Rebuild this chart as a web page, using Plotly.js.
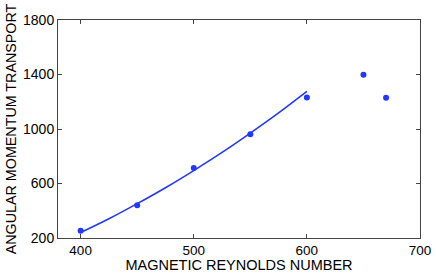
<!DOCTYPE html>
<html>
<head>
<meta charset="utf-8">
<script src="https://cdn.plot.ly/plotly-3.0.1.min.js"></script>
<style>html,body{margin:0;padding:0;background:#fff;}#chart{width:436px;height:273px;}</style>
</head>
<body>
<div id="chart"></div>
<script>
// Measured data points
const reynolds = [400, 450, 500, 550, 600, 650, 670];
const transport = [254, 440, 714, 962, 1232, 1398, 1230];
// Fitted curve
const fitReynolds = [400, 425, 450, 475, 500, 525, 550, 575, 600];
const fitTransport = [240, 341, 452, 569, 695, 828, 970, 1118, 1276];
const xTicks = [400, 500, 600, 700];
const yTicks = [200, 600, 1000, 1400, 1800];

const blue = '#2238ff';
const data = [
  {x: fitReynolds, y: fitTransport, mode: 'lines', type: 'scatter',
   line: {color: blue, width: 1.6, shape: 'spline'}, hoverinfo: 'skip'},
  {x: reynolds, y: transport, mode: 'markers', type: 'scatter',
   marker: {color: blue, size: 6}}
];
const axisCommon = {
  showgrid: false, zeroline: false, showline: true, mirror: 'ticks',
  linecolor: '#444', linewidth: 1, ticks: 'inside', ticklen: 4,
  tickcolor: '#444', tickfont: {family: 'Liberation Sans, Arial, sans-serif', size: 14, color: '#000'}
};
const layout = {
  width: 436, height: 273,
  margin: {l: 58, r: 16, t: 20, b: 35},
  paper_bgcolor: '#fff', plot_bgcolor: '#fff',
  showlegend: false,
  font: {family: 'Liberation Sans, Arial, sans-serif', color: '#000'},
  xaxis: Object.assign({}, axisCommon, {
    range: [380, 700], tickvals: xTicks, ticktext: xTicks.map(String),
    tickfont: {family: 'Liberation Sans, Arial, sans-serif', size: 13.5, color: '#000'},
    title: {text: 'MAGNETIC REYNOLDS NUMBER', font: {size: 14.5, color: '#000'}, standoff: 5}
  }),
  yaxis: Object.assign({}, axisCommon, {
    range: [200, 1800], tickvals: yTicks, ticktext: yTicks.map(String),
    title: {text: 'ANGULAR MOMENTUM TRANSPORT', font: {size: 14.3, color: '#000'}, standoff: 3}
  })
};
Plotly.newPlot('chart', data, layout, {staticPlot: true, displayModeBar: false});
</script>
</body>
</html>
